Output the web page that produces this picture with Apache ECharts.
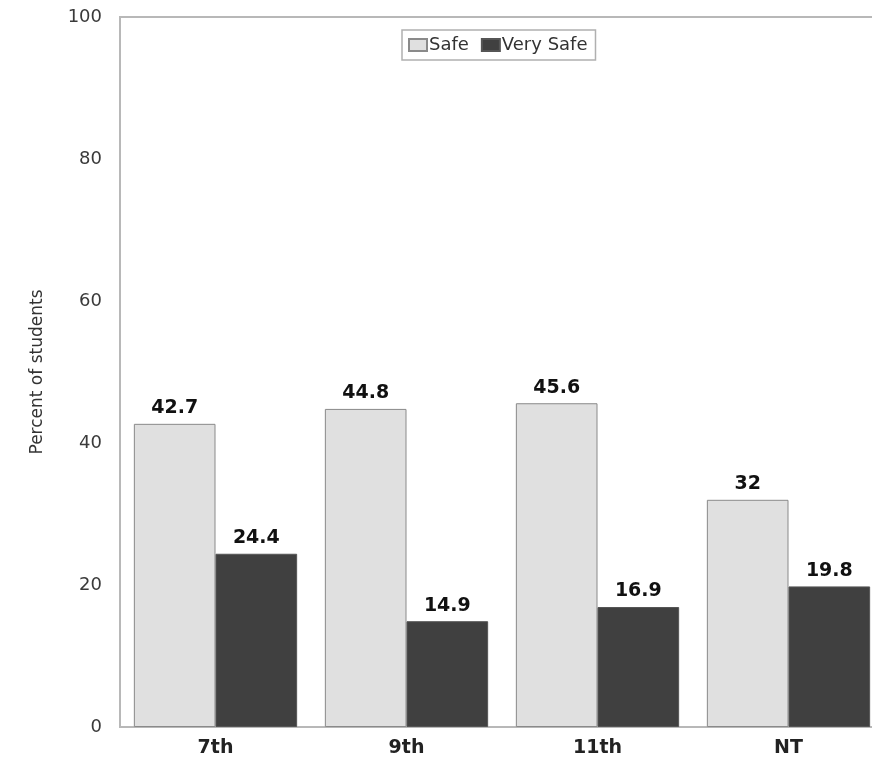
<!DOCTYPE html>
<html><head><meta charset="utf-8">
<script src="https://cdn.jsdelivr.net/npm/echarts@6/dist/echarts.min.js"></script>
<style>html,body{margin:0;padding:0;background:#fff}#c{width:872px;height:767px}</style>
</head><body><div id="c"></div>
<script>
var categories = ['7th', '9th', '11th', 'NT'];
var safe = [42.7, 44.8, 45.6, 32];
var verySafe = [24.4, 14.9, 16.9, 19.8];
var yTicks = [0, 20, 40, 60, 80, 100];

var FONT = 'DejaVu Sans, Liberation Sans, Arial, sans-serif';
var chart = echarts.init(document.getElementById('c'), null, {renderer: 'canvas'});
var labelStyle = {show: true, position: 'top', color: '#111', fontWeight: 'bold', fontSize: 19, fontFamily: FONT, distance: 6,
  formatter: function (p) { return String(p.value); }};
chart.setOption({
  animation: false,
  textStyle: {fontFamily: FONT},
  grid: {left: 120, top: 17, width: 764, height: 710, outerBoundsMode: 'none', containLabel: false,
    show: true, borderColor: '#b8b8b8', borderWidth: 2, backgroundColor: 'transparent'},
  legend: {
    left: 402, top: 30, itemWidth: 18, itemHeight: 12, itemGap: 12, icon: 'rect',
    borderColor: '#b0b0b0', borderWidth: 1.5, padding: [6, 8, 6, 6],
    textStyle: {fontSize: 18, color: '#333', padding: [0, 0, 0, -3]},
    data: ['Safe', 'Very Safe']
  },
  xAxis: {
    type: 'category', data: categories,
    axisLine: {lineStyle: {color: '#b8b8b8', width: 2}},
    axisTick: {show: false},
    axisLabel: {fontSize: 19, fontWeight: 'bold', color: '#222', margin: 12}
  },
  yAxis: {
    type: 'value', min: 0, max: 100, interval: 20,
    name: 'Percent of students', nameLocation: 'middle', nameGap: 74, nameRotate: 90,
    nameTextStyle: {fontSize: 17, color: '#333'},
    axisLine: {show: true, lineStyle: {color: '#b8b8b8', width: 2}},
    axisTick: {show: false},
    splitLine: {show: false},
    axisLabel: {fontSize: 18, color: '#3a3a3a', margin: 18,
      formatter: function (v) { return yTicks.indexOf(v) >= 0 ? String(v) : ''; }}
  },
  series: [
    {name: 'Safe', type: 'bar', data: safe, barGap: '0%', barCategoryGap: '14.5%',
      itemStyle: {color: '#e0e0e0', borderColor: '#8a8a8a', borderWidth: 1}, label: labelStyle},
    {name: 'Very Safe', type: 'bar', data: verySafe,
      itemStyle: {color: '#404040', borderColor: '#555', borderWidth: 1}, label: labelStyle}
  ]
});
</script></body></html>
